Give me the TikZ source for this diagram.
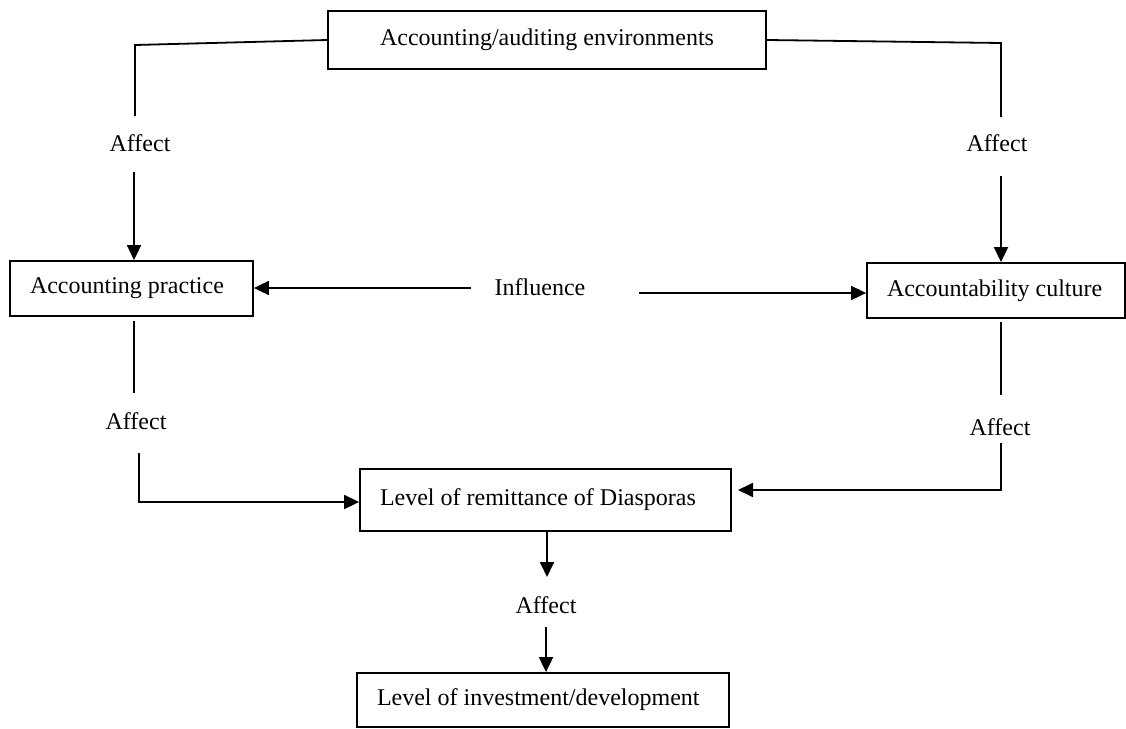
\documentclass[tikz,border=0pt]{standalone}
\usepackage{fontspec}
\setmainfont{Liberation Serif}
\usetikzlibrary{arrows.meta}
\begin{document}
\begin{tikzpicture}[x=1pt,y=-1pt,
  every node/.style={font=\fontsize{24}{28}\selectfont},
  box/.style={draw, line width=1.8pt, inner xsep=20pt, inner ysep=0pt, align=flush left},
  topbox/.style={draw, line width=1.8pt, inner sep=0pt, align=center},
  lbl/.style={inner sep=0pt},
  conn/.style={line width=1.8pt},
  arr/.style={line width=1.8pt, -{Triangle[length=15pt,width=14pt]}}
]
\useasboundingbox (0,0) rectangle (1126,728);

% boxes
\node[topbox, minimum width=438pt, minimum height=58pt] (env) at (547,40) {Accounting/auditing environments};
\node[box, text width=203pt, minimum height=55pt] (ap) at (131.5,288.5) {Accounting practice};
\node[box, text width=218pt, minimum height=55pt] (ac) at (996,290.5) {Accountability culture};
\node[box, text width=331pt, minimum height=62pt] (rem) at (545.5,500) {Level of remittance of Diasporas};
\node[box, text width=332pt, minimum height=54pt] (inv) at (543,700) {Level of investment/development};

% labels
\node[lbl] (a1) at (140,143) {Affect};
\node[lbl] (a2) at (997,143) {Affect};
\node[lbl] (infl) at (540,287) {Influence};
\node[lbl] (a3) at (136,421) {Affect};
\node[lbl] (a4) at (1000,427) {Affect};
\node[lbl] (a5) at (546,605) {Affect};

% free ends
\coordinate (l1) at (135,45);
\coordinate (l2) at (135,116);
\coordinate (l3) at (134,172);
\coordinate (r1) at (1001,43);
\coordinate (r2) at (1001,117);
\coordinate (r3) at (1001,176);
\coordinate (i1) at (471,288);
\coordinate (i2) at (639,293);
\coordinate (p1) at (134,321);
\coordinate (p2) at (134,393);
\coordinate (p3) at (139,453);
\coordinate (p4) at (139,502);
\coordinate (q1) at (1001,322);
\coordinate (q2) at (1001,395);
\coordinate (q3) at (1001,443);
\coordinate (q4) at (1001,490);
\coordinate (q5) at (738,490);
\coordinate (m1) at (547,577);
\coordinate (m2) at (546,627);

% connectors
\draw[conn] (env.west) -- (l1) -- (l2);
\draw[arr] (l3) -- (l3 |- ap.north);
\draw[conn] (env.east) -- (r1) -- (r2);
\draw[arr] (r3) -- (r3 |- ac.north);
\draw[arr] (i1) -- (i1 -| ap.east);
\draw[arr] (i2) -- (i2 -| ac.west);
\draw[conn] (p1) -- (p2);
\draw[arr] (p3) -- (p4) -- (p4 -| rem.west);
\draw[conn] (q1) -- (q2);
\draw[arr] (q3) -- (q4) -- (q5);
\draw[arr] (rem.south -| m1) -- (m1);
\draw[arr] (m2) -- (m2 |- inv.north);
\end{tikzpicture}
\end{document}
